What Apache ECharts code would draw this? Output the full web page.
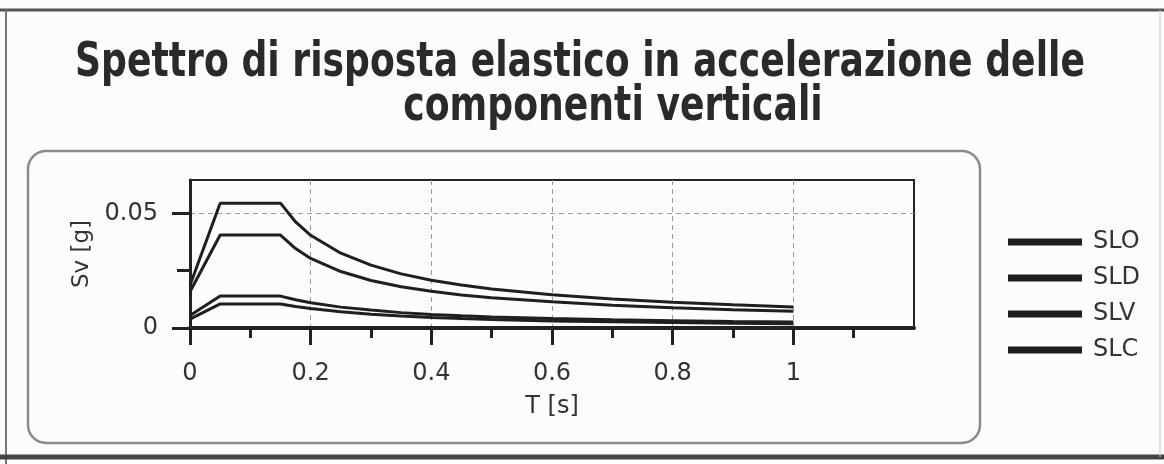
<!DOCTYPE html>
<html>
<head>
<meta charset="utf-8">
<script src="https://cdn.jsdelivr.net/npm/echarts@6/dist/echarts.min.js"></script>
<style>
  html, body { margin: 0; padding: 0; background: #fcfcfc; }
  #main { width: 1164px; height: 464px; }
</style>
</head>
<body>
<div id="main"></div>
<script>
// periodo T [s]
const periods = [0, 0.05, 0.15, 0.175, 0.2, 0.25, 0.3, 0.35, 0.4, 0.45, 0.5, 0.6, 0.7, 0.8, 0.9, 1.0];
// Sv [g]
const sloValues = [0.0039, 0.0105, 0.0105, 0.0094, 0.0085, 0.0071, 0.0060, 0.0052, 0.0046, 0.0041, 0.0037, 0.0031, 0.0027, 0.0024, 0.0021, 0.0019];
const sldValues = [0.0054, 0.0139, 0.0139, 0.0123, 0.0110, 0.0091, 0.0078, 0.0067, 0.0059, 0.0053, 0.0048, 0.0041, 0.0036, 0.0032, 0.0028, 0.0026];
const slvValues = [0.0158, 0.0405, 0.0405, 0.0346, 0.0303, 0.0246, 0.0207, 0.0180, 0.0160, 0.0144, 0.0132, 0.0114, 0.0099, 0.0088, 0.0080, 0.0073];
const slcValues = [0.0186, 0.0544, 0.0544, 0.0462, 0.0404, 0.0326, 0.0274, 0.0236, 0.0208, 0.0187, 0.0170, 0.0145, 0.0126, 0.0112, 0.0101, 0.0092];

const seriesNames = ['SLO', 'SLD', 'SLV', 'SLC'];
const xLabels = [0, 0.2, 0.4, 0.6, 0.8, 1];
const xMinorTicks = [0.1, 0.3, 0.5, 0.7, 0.9, 1.1];
const yLabels = [0, 0.05];
const yMinorTicks = [0.025];

const titleLines = ['Spettro di risposta elastico in accelerazione delle', 'componenti verticali'];

const lineColor = '#1f1f1f';
const labelFont = '"DejaVu Sans", Verdana, sans-serif';

// larghezza del titolo (il font della scansione e' piu' stretto)
const ctx = document.createElement('canvas').getContext('2d');
ctx.font = 'bold 45px "DejaVu Sans"';
const titleScale = 1010 / ctx.measureText(titleLines[0]).width;

function toPoints(values) {
  return periods.map((t, i) => [t, values[i]]);
}

const myChart = echarts.init(document.getElementById('main'));

const option = {
  backgroundColor: '#fcfcfc',
  animation: false,
  graphic: [
    // bordo pagina
    { type: 'line', shape: { x1: 0, y1: 10, x2: 1164, y2: 10 }, style: { stroke: '#555', lineWidth: 3 } },
    { type: 'line', shape: { x1: 6, y1: 10, x2: 6, y2: 464 }, style: { stroke: '#777', lineWidth: 2 } },
    { type: 'line', shape: { x1: 0, y1: 457, x2: 1164, y2: 457 }, style: { stroke: '#444', lineWidth: 5 } },
    { type: 'line', shape: { x1: 1160, y1: 10, x2: 1160, y2: 457 }, style: { stroke: '#ccc', lineWidth: 1 } },
    // riquadro arrotondato
    { type: 'rect', shape: { x: 28, y: 151, width: 952, height: 292, r: 18 },
      style: { fill: 'none', stroke: '#8a8a8a', lineWidth: 2.5 } },
    // titolo
    { type: 'text', x: 580, y: 63, scaleX: titleScale, scaleY: 1.08,
      style: { text: titleLines[0], font: 'bold 45px "DejaVu Sans"', fill: '#2a2a2a', align: 'center', verticalAlign: 'middle' } },
    { type: 'text', x: 613, y: 107, scaleX: titleScale, scaleY: 1.08,
      style: { text: titleLines[1], font: 'bold 45px "DejaVu Sans"', fill: '#2a2a2a', align: 'center', verticalAlign: 'middle' } }
  ],
  legend: {
    data: seriesNames,
    orient: 'vertical',
    left: 1003,
    top: 225,
    icon: 'rect',
    itemWidth: 74,
    itemHeight: 7,
    itemGap: 12,
    textStyle: { fontFamily: labelFont, fontSize: 24, color: '#333', padding: [0, 0, 0, 6] }
  },
  grid: {
    left: 190,
    top: 180,
    right: 250,
    bottom: 136,
    show: true,
    borderColor: '#222',
    borderWidth: 2
  },
  xAxis: [
    {
      type: 'value',
      min: 0,
      max: 1.2,
      interval: 0.2,
      name: 'T [s]',
      nameLocation: 'middle',
      nameGap: 67,
      nameTextStyle: { fontFamily: labelFont, fontSize: 24, color: '#333' },
      axisLine: { lineStyle: { color: '#222', width: 4 } },
      axisTick: { customValues: xLabels, length: 17, lineStyle: { color: '#222', width: 3 } },
      axisLabel: {
        customValues: xLabels,
        margin: 34,
        fontFamily: labelFont, fontSize: 24, color: '#333',
        formatter: v => String(+v.toFixed(1))
      },
      splitLine: { show: true, lineStyle: { color: '#9a9a9a', type: [5, 4], width: 1 } }
    },
    {
      type: 'value',
      min: 0,
      max: 1.2,
      position: 'bottom',
      axisLine: { show: false },
      axisTick: { customValues: xMinorTicks, length: 10, lineStyle: { color: '#222', width: 3 } },
      axisLabel: { show: false },
      splitLine: { show: false }
    }
  ],
  yAxis: [
    {
      type: 'value',
      min: 0,
      max: 0.0645,
      interval: 0.05,
      name: 'Sv [g]',
      nameLocation: 'middle',
      nameGap: 93,
      nameTextStyle: { fontFamily: labelFont, fontSize: 23, color: '#333' },
      axisLine: { show: true, lineStyle: { color: '#222', width: 3 } },
      axisTick: { show: true, customValues: yLabels, length: 18, lineStyle: { color: '#222', width: 3 } },
      axisLabel: {
        customValues: yLabels,
        margin: 32,
        fontFamily: labelFont, fontSize: 24, color: '#333',
        formatter: v => (v === 0 ? '0' : v.toFixed(2))
      },
      splitLine: { show: true, lineStyle: { color: '#9a9a9a', type: [5, 4], width: 1 } }
    },
    {
      type: 'value',
      min: 0,
      max: 0.0645,
      position: 'left',
      axisLine: { show: false },
      axisTick: { show: true, customValues: yMinorTicks, length: 13, lineStyle: { color: '#222', width: 3 } },
      axisLabel: { show: false },
      splitLine: { show: false }
    }
  ],
  series: [
    { name: 'SLO', type: 'line', data: toPoints(sloValues) },
    { name: 'SLD', type: 'line', data: toPoints(sldValues) },
    { name: 'SLV', type: 'line', data: toPoints(slvValues) },
    { name: 'SLC', type: 'line', data: toPoints(slcValues) }
  ].map(s => Object.assign(s, {
    showSymbol: false,
    symbol: 'none',
    color: lineColor,
    lineStyle: { color: lineColor, width: 3 }
  }))
};

myChart.setOption(option);
</script>
</body>
</html>
